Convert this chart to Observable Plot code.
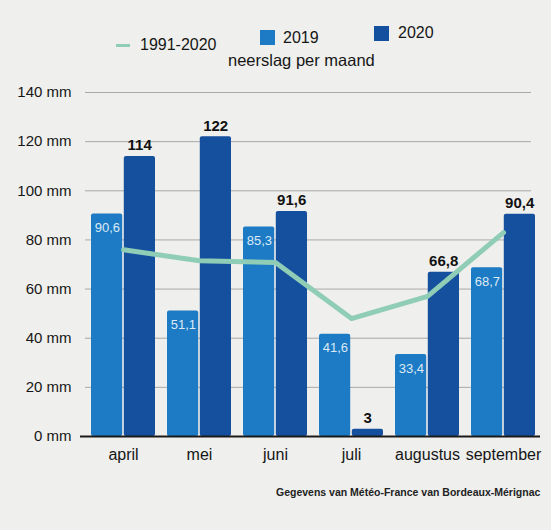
<!DOCTYPE html>
<html>
<head>
<meta charset="utf-8">
<script src="https://cdn.jsdelivr.net/npm/d3@7"></script>
<script src="https://cdn.jsdelivr.net/npm/@observablehq/plot@0.6"></script>
<style>
  html, body { margin: 0; padding: 0; background: #efefed; }
  #wrap { position: relative; width: 551px; height: 530px; overflow: hidden; font-family: "Liberation Sans", Arial, sans-serif; color: #161616; }
  .lg { position: absolute; font-size: 16px; white-space: nowrap; line-height: 18px; }
  .sw { position: absolute; width: 15px; height: 15px; }
  #caption { position: absolute; left: 276px; top: 486px; font-size: 10.5px; font-weight: bold; white-space: nowrap; color: #222; }
  #chart { position: absolute; left: 0; top: 0; }
</style>
</head>
<body>
<div id="wrap">
  <div id="chart"></div>
  <div class="sw" style="left:116px;top:44px;width:14px;height:3px;background:#8fcdb6"></div>
  <div class="lg" style="left:140px;top:36px">1991-2020</div>
  <div class="sw" style="left:260px;top:30px;background:#1c7bc4"></div>
  <div class="lg" style="left:283px;top:29px">2019</div>
  <div class="sw" style="left:374px;top:26px;background:#15509f"></div>
  <div class="lg" style="left:398px;top:24px">2020</div>
  <div class="lg" style="left:228px;top:51px;font-size:16.5px">neerslag per maand</div>
  <div id="caption">Gegevens van Météo-France van Bordeaux-Mérignac</div>
</div>
<script>
const months = ["april", "mei", "juni", "juli", "augustus", "september"];
const rain2019 = [90.6, 51.1, 85.3, 41.6, 33.4, 68.7];
const rain2020 = [114, 122, 91.6, 3, 66.8, 90.4];
const normal = [76, 71.5, 70.8, 48, 57, 83];
const yTicks = [0, 20, 40, 60, 80, 100, 120, 140];

const c2019 = "#1c7bc4", c2020 = "#15509f", cLine = "#8fcdb6";
const fmt = v => String(v).replace(".", ",");

const d2019 = months.map((m, i) => ({month: m, value: rain2019[i]}));
const d2020 = months.map((m, i) => ({month: m, value: rain2020[i]}));
const dNorm = months.map((m, i) => ({month: m, value: normal[i]}));

const W = 551, H = 470, ML = 88, MR = 14, MT = 92, MB = 34;
const pad = 0.16;
const step = (W - ML - MR) / (months.length - pad);
const bw = step * (1 - pad);
const half = bw / 2;

const plot = Plot.plot({
  width: W, height: H,
  marginLeft: ML, marginRight: MR, marginTop: MT, marginBottom: MB,
  style: {background: "transparent", fontFamily: "Liberation Sans, Arial, sans-serif", color: "#161616"},
  x: {domain: months, paddingInner: pad, paddingOuter: 0, label: null},
  y: {domain: [0, 140], label: null},
  marks: [
    Plot.ruleY(yTicks.filter(d => d > 0), {stroke: "#a8a8a8", strokeWidth: 1, insetLeft: -3, insetRight: 6}),
    Plot.axisY(yTicks, {tickSize: 0, tickPadding: 17, tickFormat: d => d + " mm", fontSize: 15, fill: "#161616"}),
    Plot.axisX({tickSize: 0, tickPadding: 12, fontSize: 16, fill: "#161616"}),
    Plot.barY(d2019, {x: "month", y: "value", fill: c2019, insetRight: half + 0.5, rx: 2}),
    Plot.barY(d2020, {x: "month", y: "value", fill: c2020, insetLeft: half + 0.5, rx: 2}),
    Plot.ruleY([0], {stroke: "#1a1a1a", strokeWidth: 2, insetLeft: -8, insetRight: -3}),
    Plot.line(dNorm, {x: "month", y: "value", stroke: cLine, strokeWidth: 5}),
    Plot.text(d2019, {x: "month", y: "value", text: d => fmt(d.value), dx: -half / 2, dy: 14, fill: "#dceaf6", fontSize: 13}),
    Plot.text(d2020, {x: "month", y: "value", text: d => fmt(d.value), dx: half / 2, dy: -11, fill: "#111", fontSize: 15, fontWeight: 600})
  ]
});
document.getElementById("chart").appendChild(plot);
</script>
</body>
</html>
